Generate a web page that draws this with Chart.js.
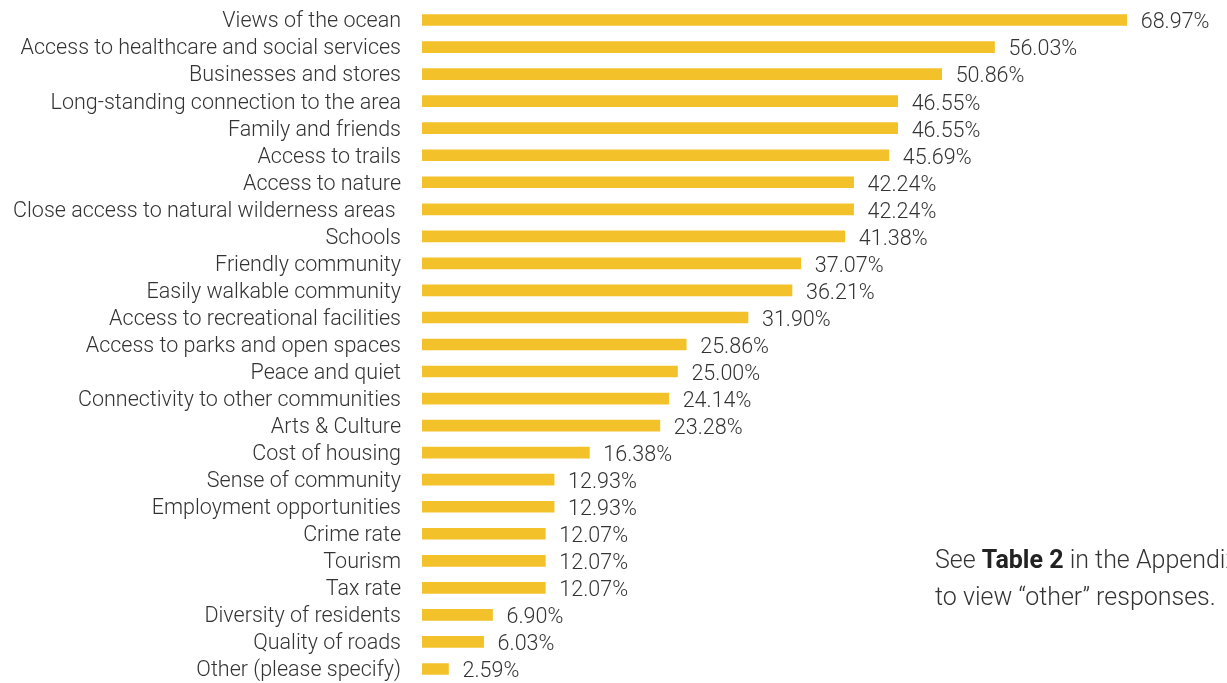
<!DOCTYPE html>
<html>
<head>
<meta charset="utf-8">
<script src="https://cdn.jsdelivr.net/npm/chart.js@4"></script>
<style>
  html, body { margin: 0; padding: 0; background: #fff; overflow: hidden; }
  #wrap { position: relative; width: 1227px; height: 683px; overflow: hidden; }
  canvas { display: block; }
  #note {
    position: absolute; left: 935px; top: 541px; white-space: nowrap;
    font-family: Roboto, "Open Sans", sans-serif; font-weight: 300;
    font-size: 25px; line-height: 37px; color: #333;
  }
  #note b { font-weight: 700; color: #222; }
</style>
</head>
<body>
<div id="wrap">
  <canvas id="myChart" width="1227" height="683"></canvas>
  <div id="note">See <b>Table 2</b> in the Appendix<br>to view “other” responses.</div>
</div>
<script>
// Categories, top to bottom
const categories = [
  'Views of the ocean',
  'Access to healthcare and social services',
  'Businesses and stores',
  'Long-standing connection to the area',
  'Family and friends',
  'Access to trails',
  'Access to nature',
  'Close access to natural wilderness areas ',
  'Schools',
  'Friendly community',
  'Easily walkable community',
  'Access to recreational facilities',
  'Access to parks and open spaces',
  'Peace and quiet',
  'Connectivity to other communities',
  'Arts & Culture',
  'Cost of housing',
  'Sense of community',
  'Employment opportunities',
  'Crime rate',
  'Tourism',
  'Tax rate',
  'Diversity of residents',
  'Quality of roads',
  'Other (please specify)'
];

// Percent of respondents
const percentages = [
  68.97, 56.03, 50.86, 46.55, 46.55, 45.69, 42.24, 42.24, 41.38, 37.07,
  36.21, 31.90, 25.86, 25.00, 24.14, 23.28, 16.38, 12.93, 12.93, 12.07,
  12.07, 12.07, 6.90, 6.03, 2.59
];

const barColor = '#F3C22A';
const textColor = '#333333';
const labelFont = { family: 'Roboto, "Open Sans", sans-serif', size: 21.5, weight: '300' };

// Draw the percentage text just past the end of each bar
const valueLabels = {
  id: 'valueLabels',
  afterDatasetsDraw(chart) {
    const c = chart.ctx;
    const meta = chart.getDatasetMeta(0);
    c.save();
    c.font = `${labelFont.weight} ${labelFont.size}px ${labelFont.family}`;
    c.fillStyle = textColor;
    c.textAlign = 'left';
    c.textBaseline = 'middle';
    meta.data.forEach((bar, i) => {
      c.fillText(percentages[i].toFixed(2) + '%', bar.x + 14, bar.y + 3);
    });
    c.restore();
  }
};

const ctx = document.getElementById('myChart').getContext('2d');
const myChart = new Chart(ctx, {
  type: 'bar',
  data: {
    labels: categories,
    datasets: [{
      data: percentages,
      backgroundColor: barColor,
      barThickness: 11,
      borderWidth: 0
    }]
  },
  options: {
    indexAxis: 'y',
    responsive: false,
    animation: false,
    layout: { padding: { top: 6.5, bottom: 0.5, left: 0, right: 8 } },
    scales: {
      x: {
        min: 0,
        max: 78,
        display: false
      },
      y: {
        grid: { display: false, drawTicks: false },
        border: { display: false },
        ticks: {
          color: textColor,
          font: labelFont,
          padding: 21,
          labelOffset: 2,
          autoSkip: false
        },
        afterFit(scale) {
          scale.width = 422;
          scale.paddingTop = 0;
          scale.paddingBottom = 0;
        }
      }
    },
    plugins: {
      legend: { display: false },
      tooltip: { enabled: false }
    }
  },
  plugins: [valueLabels]
});
</script>
</body>
</html>
